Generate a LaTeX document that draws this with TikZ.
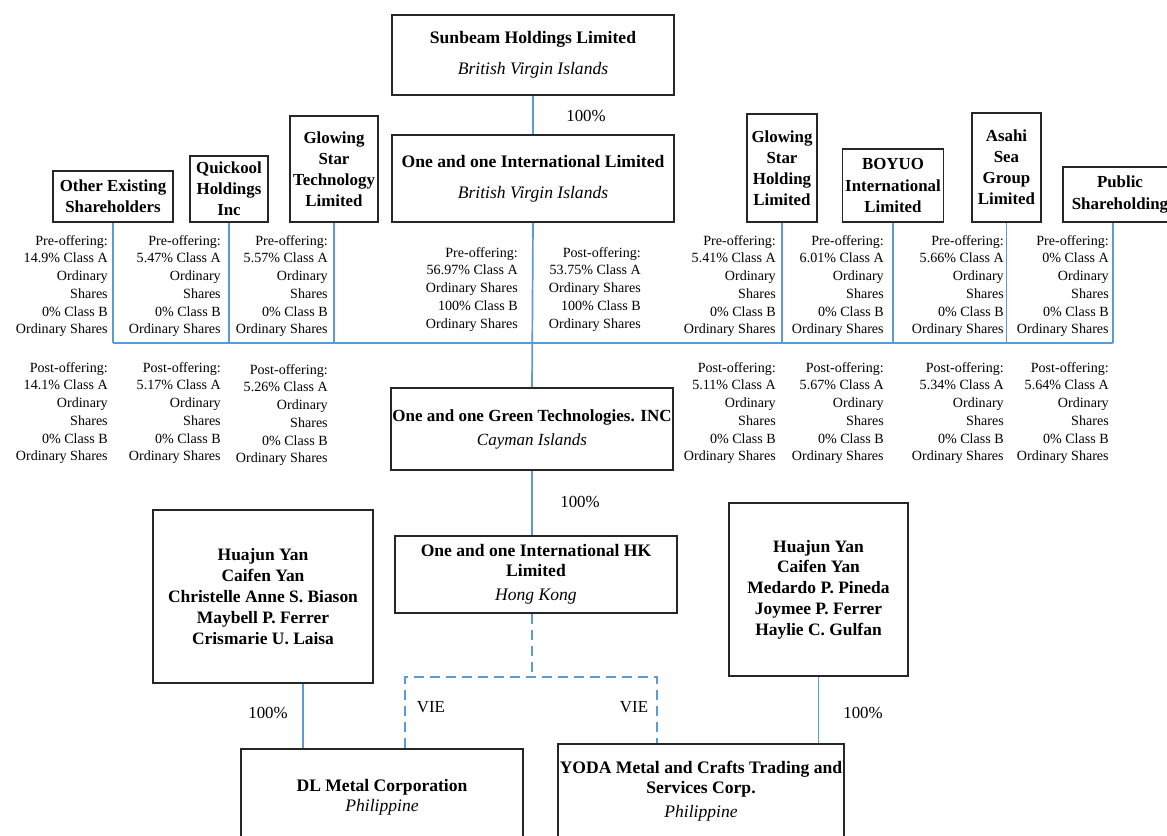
\documentclass[tikz,border=0pt]{standalone}
\usepackage{fontspec}
\setmainfont{Liberation Serif}
\definecolor{linkblue}{RGB}{91,155,213}

\begin{document}
\begin{tikzpicture}[x=0.025cm,y=-0.025cm]
% Estilos
\tikzset{
  company/.style={rectangle, draw=black!85, line width=1.3pt, align=center, inner sep=1pt, font=\fontsize{12.5}{14.2}\selectfont},
  holder/.style={rectangle, draw=black!85, line width=1.3pt, align=center, inner sep=1pt, font=\fontsize{12}{15}\selectfont\bfseries},
  bigholder/.style={holder, line width=2pt},
  people/.style={company, font=\fontsize{12.4}{14.8}\selectfont\bfseries},
  shares/.style={anchor=north east, align=right, inner sep=0pt, font=\fontsize{10}{12.6}\selectfont},
  pct/.style={inner sep=0pt, font=\fontsize{12}{14}\selectfont},
  link/.style={draw=linkblue, line width=1.2pt},
  vie/.style={link, dash pattern=on 0.25cm off 0.15cm}
}
\useasboundingbox (0,0) rectangle (1167,836);

% Sunbeam Holdings
\node[company, minimum width=7.05cm, minimum height=2cm] (sunbeam) at (533,55)
  {\textbf{Sunbeam Holdings Limited}\\[7.8pt]\textit{British Virgin Islands}};

% One and one International
\node[company, minimum width=7.05cm, minimum height=2.175cm] (oneintl) at (533,178.5)
  {\textbf{One and one International Limited}\\[7.8pt]\textit{British Virgin Islands}};

% Acionistas
\node[holder, minimum width=3cm, minimum height=1.275cm] (others) at (113,196.5) {Other Existing\\Shareholders};
\node[holder, minimum width=1.95cm, minimum height=1.65cm] (quickool) at (229,189) {Quickool\\Holdings\\Inc};
\node[bigholder, minimum width=2.2cm, minimum height=2.65cm] (gstech) at (334,169) {Glowing\\Star\\Technology\\Limited};
\node[bigholder, minimum width=1.75cm, minimum height=2.7cm] (gsholding) at (782,168) {Glowing\\Star\\Holding\\Limited};
\node[holder, minimum width=2.525cm, minimum height=1.825cm] (boyuo) at (893,185.5) {BOYUO\\International\\Limited};
\node[bigholder, minimum width=1.725cm, minimum height=2.725cm] (asahi) at (1006.5,167.5) {Asahi\\Sea\\Group\\Limited};
\node[holder, minimum width=2.85cm, minimum height=1.375cm] (public) at (1120,194.5) {Public\\Shareholding};

% Pre-offering
\node[shares] (preOthers) at (108,235) {Pre-offering:\\14.9\% Class A\\Ordinary\\Shares\\0\% Class B\\Ordinary Shares};
\node[shares] (preQuickool) at (221,235) {Pre-offering:\\5.47\% Class A\\Ordinary\\Shares\\0\% Class B\\Ordinary Shares};
\node[shares] (preGstech) at (328,235) {Pre-offering:\\5.57\% Class A\\Ordinary\\Shares\\0\% Class B\\Ordinary Shares};
\node[shares] (preOneintl) at (518,247) {Pre-offering:\\56.97\% Class A\\Ordinary Shares\\100\% Class B\\Ordinary Shares};
\node[shares] (postOneintl) at (641,247) {Post-offering:\\53.75\% Class A\\Ordinary Shares\\100\% Class B\\Ordinary Shares};
\node[shares] (preGsholding) at (776,235) {Pre-offering:\\5.41\% Class A\\Ordinary\\Shares\\0\% Class B\\Ordinary Shares};
\node[shares] (preBoyuo) at (884,235) {Pre-offering:\\6.01\% Class A\\Ordinary\\Shares\\0\% Class B\\Ordinary Shares};
\node[shares] (preAsahi) at (1004,235) {Pre-offering:\\5.66\% Class A\\Ordinary\\Shares\\0\% Class B\\Ordinary Shares};
\node[shares] (prePublic) at (1109,235) {Pre-offering:\\0\% Class A\\Ordinary\\Shares\\0\% Class B\\Ordinary Shares};

% Post-offering
\node[shares] (postOthers) at (108,362) {Post-offering:\\14.1\% Class A\\Ordinary\\Shares\\0\% Class B\\Ordinary Shares};
\node[shares] (postQuickool) at (221,362) {Post-offering:\\5.17\% Class A\\Ordinary\\Shares\\0\% Class B\\Ordinary Shares};
\node[shares] (postGstech) at (328,364) {Post-offering:\\5.26\% Class A\\Ordinary\\Shares\\0\% Class B\\Ordinary Shares};
\node[shares] (postGsholding) at (776,362) {Post-offering:\\5.11\% Class A\\Ordinary\\Shares\\0\% Class B\\Ordinary Shares};
\node[shares] (postBoyuo) at (884,362) {Post-offering:\\5.67\% Class A\\Ordinary\\Shares\\0\% Class B\\Ordinary Shares};
\node[shares] (postAsahi) at (1004,362) {Post-offering:\\5.34\% Class A\\Ordinary\\Shares\\0\% Class B\\Ordinary Shares};
\node[shares] (postPublic) at (1109,362) {Post-offering:\\5.64\% Class A\\Ordinary\\Shares\\0\% Class B\\Ordinary Shares};

% Cayman
\node[company, font=\fontsize{12.1}{14.2}\selectfont, minimum width=7.05cm, minimum height=2.05cm] (cayman) at (532,429)
  {\textbf{One and one Green Technologies. INC}\\[2.8pt]\textit{Cayman Islands}};

% Hong Kong
\node[company, minimum width=7.05cm, minimum height=1.925cm] (hk) at (536,574.5)
  {\textbf{One and one International HK}\\\textbf{Limited}\\[2.8pt]\textit{Hong Kong}};

% Socios
\node[people, minimum width=5.5cm, minimum height=4.325cm] (ownL) at (263,596.5)
  {Huajun Yan\\Caifen Yan\\Christelle Anne S. Biason\\Maybell P. Ferrer\\Crismarie U. Laisa};
\node[people, minimum width=4.475cm, minimum height=4.325cm] (ownR) at (818.5,589.5)
  {Huajun Yan\\Caifen Yan\\Medardo P. Pineda\\Joymee P. Ferrer\\Haylie C. Gulfan};

% Filipinas
\node[company, minimum width=7.05cm, minimum height=2.4cm] (dl) at (382,797)
  {\textbf{DL Metal Corporation}\\\textit{Philippine}};
\node[company, minimum width=7.1cm, minimum height=2.375cm] (yoda) at (701,791.5)
  {\textbf{YODA Metal and Crafts Trading and}\\\textbf{Services Corp.}\\[3pt]\textit{Philippine}};

% Ligacoes
\draw[link] (sunbeam.south) -- (oneintl.north);
\node[pct] (pctSunbeam) at (586,116) {100\%};

\coordinate (bus) at (533,343);
\draw[link] (oneintl.south) -- (cayman.north);
\draw[link] (others.south) -- (others.south |- bus);
\draw[link] (quickool.south) -- (quickool.south |- bus);
\draw[link] (gstech.south) -- (gstech.south |- bus);
\draw[link] (gsholding.south) -- (gsholding.south |- bus);
\draw[link] (boyuo.south) -- (boyuo.south |- bus);
\draw[link] (asahi.south) -- (asahi.south |- bus);
\draw[link] ([xshift=-0.18cm]public.south) -- ([xshift=-0.18cm]public.south |- bus);
\draw[link] (others.south |- bus) -- ([xshift=-0.18cm]public.south |- bus);

\draw[link] (cayman.south) -- (cayman.south |- hk.north);
\node[pct] (pctCayman) at (580,502) {100\%};

\coordinate (vieL) at (405,677);
\coordinate (vieR) at (657,677);
\draw[vie] (cayman.south |- hk.south) -- (cayman.south |- vieL);
\draw[vie] (vieL |- dl.north) -- (vieL) -- (vieR) -- (vieR |- yoda.north);
\node[pct] (vieDl) at (431,707) {VIE};
\node[pct] (vieYoda) at (634,707) {VIE};

\draw[link] ([xshift=1cm]ownL.south) -- ([xshift=1cm]ownL.south |- dl.north);
\node[pct] (pctDl) at (268,713) {100\%};
\draw[link] (ownR.south) -- (ownR.south |- yoda.north);
\node[pct] (pctYoda) at (863,713) {100\%};

\end{tikzpicture}
\end{document}
